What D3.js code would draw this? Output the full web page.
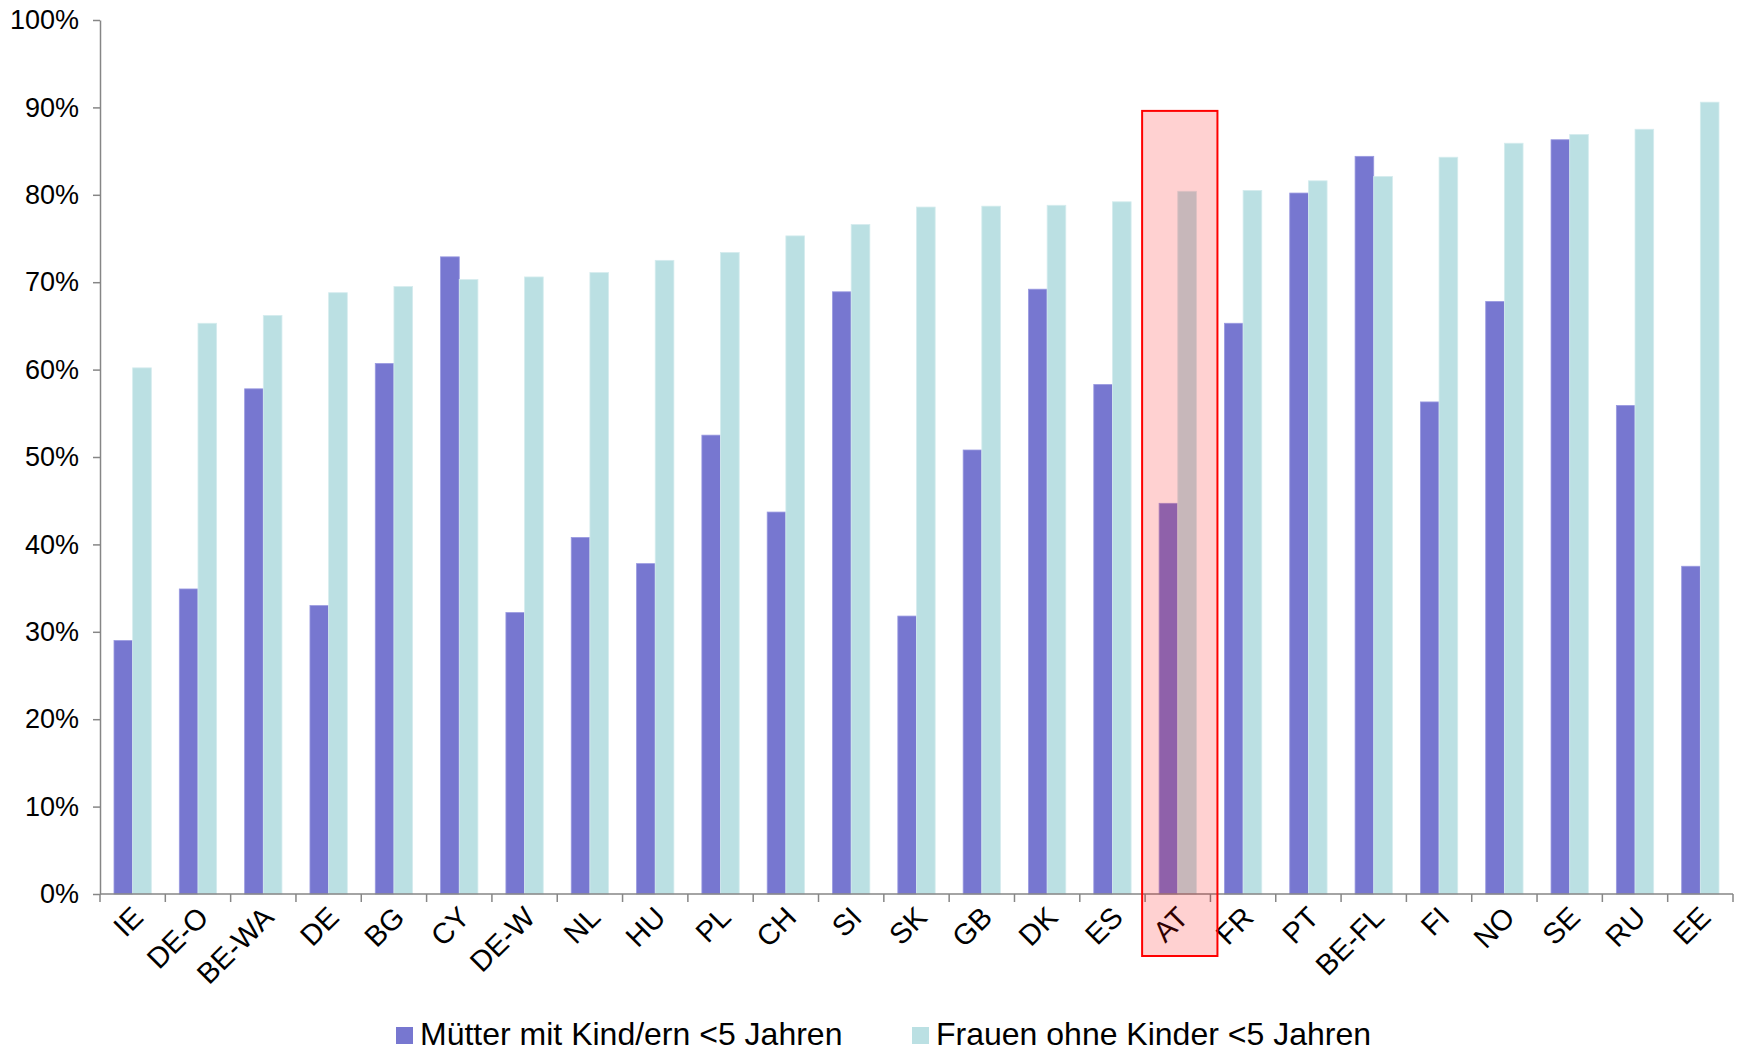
<!DOCTYPE html>
<html><head><meta charset="utf-8">
<script src="https://cdn.jsdelivr.net/npm/d3@7"></script>
<style>
html,body{margin:0;padding:0;background:#fff;}
svg{display:block;font-family:"Liberation Sans",Arial,sans-serif;}
</style></head>
<body>
<svg id="chart" width="1739" height="1053"></svg>
<script>
const categories = ["IE","DE-O","BE-WA","DE","BG","CY","DE-W","NL","HU","PL","CH","SI","SK","GB","DK","ES","AT","FR","PT","BE-FL","FI","NO","SE","RU","EE"];
const muetter = [29.0,34.9,57.8,33.0,60.7,72.9,32.2,40.8,37.8,52.5,43.7,68.9,31.8,50.8,69.2,58.3,44.7,65.3,80.2,84.4,56.3,67.8,86.3,55.9,37.5];
const frauen  = [60.2,65.3,66.2,68.8,69.5,70.3,70.6,71.1,72.5,73.4,75.3,76.6,78.6,78.7,78.8,79.2,80.4,80.5,81.6,82.1,84.3,85.9,86.9,87.5,90.6];
const seriesNames = ["Mütter mit Kind/ern <5 Jahren","Frauen ohne Kinder <5 Jahren"];
const yTicks = [0,10,20,30,40,50,60,70,80,90,100];
const highlight = "AT";

const colors = ["#7777D0","#BBE0E3"];
const svg = d3.select("#chart");
const m = {left:100, right:1733, top:20, bottom:894};

const x = d3.scaleBand().domain(categories).range([m.left, m.right]).paddingInner(0).paddingOuter(0);
const y = d3.scaleLinear().domain([0,100]).range([m.bottom, m.top]);
const step = x.bandwidth();
const inner = d3.scaleBand().domain([0,1]).range([step*0.75/3.5, step - step*0.75/3.5]).padding(0);

const data = categories.map((c,i)=>({c, v:[muetter[i], frauen[i]]}));

// bars
const g = svg.append("g");
data.forEach(d=>{
  d.v.forEach((v,k)=>{
    g.append("rect")
      .attr("x", x(d.c) + inner(k))
      .attr("y", y(v))
      .attr("width", inner.bandwidth())
      .attr("height", y(0)-y(v))
      .attr("fill", colors[k])
      .attr("stroke", k===0 ? "#9a9ae0" : "#d5ecee")
      .attr("stroke-width", 0.8);
  });
});

// y axis
const yAxis = svg.append("g").attr("transform",`translate(${m.left},0)`)
  .call(d3.axisLeft(y).tickValues(yTicks).tickFormat(d=>d+"%").tickSize(7).tickSizeOuter(0));
yAxis.select(".domain").attr("stroke","#868686").attr("stroke-width",1.5);
yAxis.selectAll(".tick line").attr("stroke","#868686").attr("stroke-width",1.5);
yAxis.selectAll(".tick text").attr("font-size","27px").attr("fill","#000")
  .attr("font-family","Liberation Sans, Arial, sans-serif").attr("x",-21);

// x axis
const xAxisG = svg.append("g").attr("transform",`translate(0,${m.bottom})`);
xAxisG.append("line").attr("x1",m.left).attr("x2",m.right).attr("y1",0).attr("y2",0)
  .attr("stroke","#868686").attr("stroke-width",1.5);
const bounds = categories.map(c=>x(c)).concat([m.right]);
xAxisG.selectAll("line.tk").data(bounds).enter().append("line").attr("class","tk")
  .attr("x1",d=>d).attr("x2",d=>d).attr("y1",0).attr("y2",8)
  .attr("stroke","#868686").attr("stroke-width",1.5);
xAxisG.selectAll("text.lbl").data(categories).enter().append("text").attr("class","lbl")
  .attr("transform",d=>`translate(${x(d)+step/2+5},${18}) rotate(-45)`)
  .attr("text-anchor","end").attr("dy","0.35em")
  .attr("font-size","29px").attr("fill","#000").text(d=>d);

// highlight overlay
const hx0 = x(highlight) - 3, hx1 = x(highlight) + step + 7;
svg.append("rect")
  .attr("x", hx0).attr("y", y(89.6))
  .attr("width", hx1-hx0).attr("height", 956 - y(89.6))
  .attr("fill","rgba(255,0,0,0.18)").attr("stroke","#ff0000").attr("stroke-width",2);

// legend
const leg = svg.append("g");
const legX = [396, 912];
seriesNames.forEach((s,k)=>{
  leg.append("rect").attr("x",legX[k]).attr("y",1027).attr("width",17).attr("height",17).attr("fill",colors[k]);
  leg.append("text").attr("x",legX[k]+24).attr("y",1045).attr("font-size","32px").attr("fill","#000").text(s);
});
</script>
</body></html>
